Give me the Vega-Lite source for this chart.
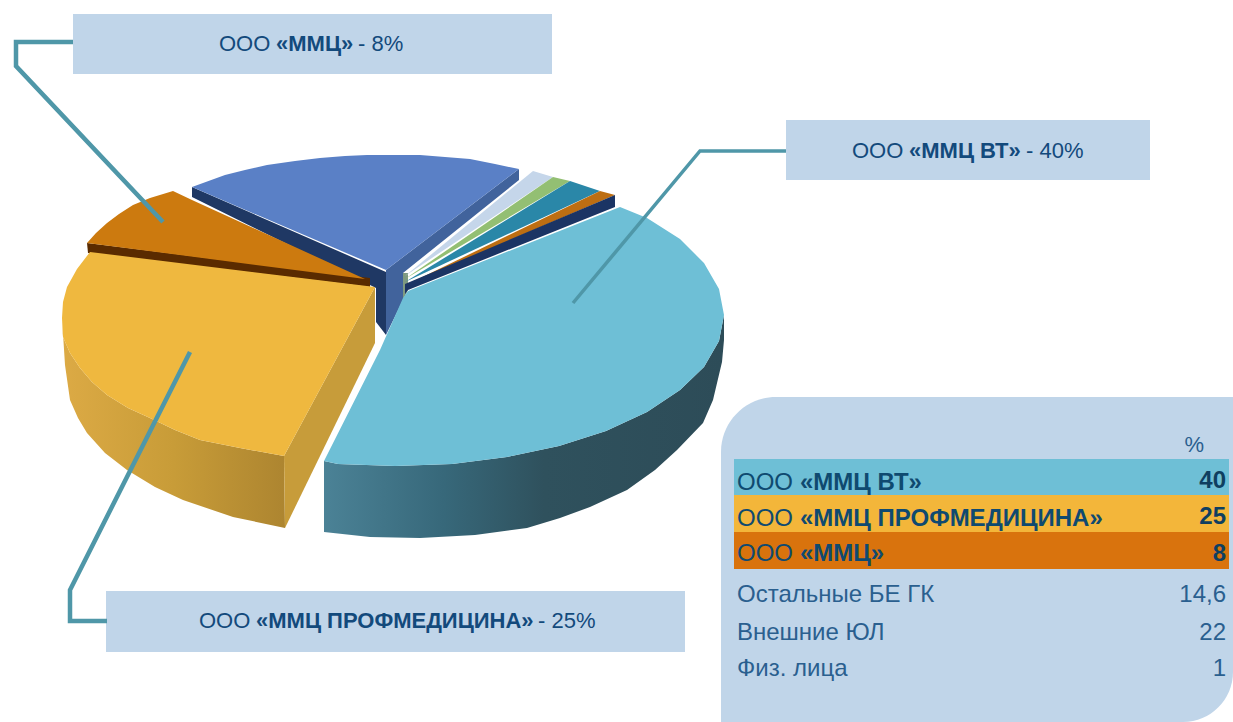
{
"$schema":"https://vega.github.io/schema/vega-lite/v6.json",
"width":1233,"height":722,"padding":0,
"autosize":{"type":"fit","contains":"padding"},
"background":"#ffffff",
"view":{"stroke":null},
"datasets":{
"faces":[
{"part":"side40","i":1,"x":324,"y":461},{"part":"side40","i":2,"x":338,"y":464},{"part":"side40","i":3,"x":395,"y":466},{"part":"side40","i":4,"x":452,"y":464},{"part":"side40","i":5,"x":507,"y":457},{"part":"side40","i":6,"x":559,"y":446},{"part":"side40","i":7,"x":606,"y":431},{"part":"side40","i":8,"x":647,"y":412},{"part":"side40","i":9,"x":680,"y":390},{"part":"side40","i":10,"x":704,"y":367},{"part":"side40","i":11,"x":719,"y":341},{"part":"side40","i":12,"x":724,"y":315},{"part":"side40","i":13,"x":724,"y":340},{"part":"side40","i":14,"x":722,"y":362},{"part":"side40","i":15,"x":713,"y":400},{"part":"side40","i":16,"x":703,"y":423},{"part":"side40","i":17,"x":677,"y":450},{"part":"side40","i":18,"x":655,"y":470},{"part":"side40","i":19,"x":627,"y":490},{"part":"side40","i":20,"x":590,"y":507},{"part":"side40","i":21,"x":560,"y":518},{"part":"side40","i":22,"x":527,"y":528},{"part":"side40","i":23,"x":475,"y":535},{"part":"side40","i":24,"x":420,"y":538},{"part":"side40","i":25,"x":370,"y":537},{"part":"side40","i":26,"x":324,"y":532},
{"part":"side25","i":1,"x":62,"y":318},{"part":"side25","i":2,"x":63,"y":337},{"part":"side25","i":3,"x":70,"y":353},{"part":"side25","i":4,"x":80,"y":368},{"part":"side25","i":5,"x":92,"y":382},{"part":"side25","i":6,"x":107,"y":395},{"part":"side25","i":7,"x":128,"y":408},{"part":"side25","i":8,"x":150,"y":418},{"part":"side25","i":9,"x":175,"y":430},{"part":"side25","i":10,"x":200,"y":440},{"part":"side25","i":11,"x":240,"y":448},{"part":"side25","i":12,"x":284,"y":456},{"part":"side25","i":13,"x":285,"y":528},{"part":"side25","i":14,"x":233,"y":517},{"part":"side25","i":15,"x":183,"y":500},{"part":"side25","i":16,"x":155,"y":487},{"part":"side25","i":17,"x":127,"y":470},{"part":"side25","i":18,"x":105,"y":453},{"part":"side25","i":19,"x":87,"y":433},{"part":"side25","i":20,"x":78,"y":418},{"part":"side25","i":21,"x":70,"y":400},{"part":"side25","i":22,"x":65,"y":365},
{"part":"navy20","i":1,"x":192,"y":187},{"part":"navy20","i":2,"x":386,"y":272},{"part":"navy20","i":3,"x":386,"y":335},{"part":"navy20","i":4,"x":376,"y":322},{"part":"navy20","i":5,"x":376,"y":288},{"part":"navy20","i":6,"x":192,"y":197},
{"part":"face20","i":1,"x":386,"y":270},{"part":"face20","i":2,"x":519,"y":169},{"part":"face20","i":3,"x":519,"y":180},{"part":"face20","i":4,"x":403,"y":273},{"part":"face20","i":5,"x":403,"y":300},{"part":"face20","i":6,"x":386,"y":335},
{"part":"top20","i":1,"x":192,"y":187},{"part":"top20","i":2,"x":225,"y":175},{"part":"top20","i":3,"x":245,"y":170},{"part":"top20","i":4,"x":267,"y":165},{"part":"top20","i":5,"x":295,"y":161},{"part":"top20","i":6,"x":320,"y":158},{"part":"top20","i":7,"x":345,"y":156},{"part":"top20","i":8,"x":367,"y":155},{"part":"top20","i":9,"x":395,"y":155},{"part":"top20","i":10,"x":420,"y":155},{"part":"top20","i":11,"x":445,"y":157},{"part":"top20","i":12,"x":470,"y":159},{"part":"top20","i":13,"x":495,"y":164},{"part":"top20","i":14,"x":519,"y":169},{"part":"top20","i":15,"x":386,"y":270},
{"part":"dark8","i":1,"x":87,"y":243},{"part":"dark8","i":2,"x":370,"y":278},{"part":"dark8","i":3,"x":370,"y":287},{"part":"dark8","i":4,"x":88,"y":253},
{"part":"top8","i":1,"x":87,"y":243},{"part":"top8","i":2,"x":96,"y":233},{"part":"top8","i":3,"x":107,"y":223},{"part":"top8","i":4,"x":119,"y":214},{"part":"top8","i":5,"x":133,"y":205},{"part":"top8","i":6,"x":150,"y":198},{"part":"top8","i":7,"x":173,"y":191},{"part":"top8","i":8,"x":192,"y":200},{"part":"top8","i":9,"x":365,"y":279},
{"part":"face25","i":1,"x":375,"y":287},{"part":"face25","i":2,"x":375,"y":343},{"part":"face25","i":3,"x":285,"y":528},{"part":"face25","i":4,"x":284,"y":456},
{"part":"top25","i":1,"x":90,"y":252},{"part":"top25","i":2,"x":375,"y":287},{"part":"top25","i":3,"x":284,"y":456},{"part":"top25","i":4,"x":240,"y":448},{"part":"top25","i":5,"x":200,"y":440},{"part":"top25","i":6,"x":175,"y":430},{"part":"top25","i":7,"x":150,"y":418},{"part":"top25","i":8,"x":128,"y":408},{"part":"top25","i":9,"x":107,"y":395},{"part":"top25","i":10,"x":92,"y":382},{"part":"top25","i":11,"x":80,"y":368},{"part":"top25","i":12,"x":70,"y":353},{"part":"top25","i":13,"x":63,"y":337},{"part":"top25","i":14,"x":62,"y":318},{"part":"top25","i":15,"x":63,"y":302},{"part":"top25","i":16,"x":67,"y":287},{"part":"top25","i":17,"x":77,"y":269},
{"part":"grey","i":1,"x":403,"y":273},{"part":"grey","i":2,"x":408,"y":273},{"part":"grey","i":3,"x":408,"y":290},{"part":"grey","i":4,"x":403,"y":300},
{"part":"s1","i":1,"x":533,"y":171},{"part":"s1","i":2,"x":553,"y":177},{"part":"s1","i":3,"x":405,"y":276},
{"part":"s2","i":1,"x":553,"y":177},{"part":"s2","i":2,"x":570,"y":181},{"part":"s2","i":3,"x":405,"y":279},
{"part":"s3","i":1,"x":570,"y":181},{"part":"s3","i":2,"x":600,"y":191},{"part":"s3","i":3,"x":405,"y":282},
{"part":"s4","i":1,"x":600,"y":191},{"part":"s4","i":2,"x":615,"y":195},{"part":"s4","i":3,"x":406,"y":285},
{"part":"s5","i":1,"x":615,"y":195},{"part":"s5","i":2,"x":615,"y":207},{"part":"s5","i":3,"x":408,"y":290},{"part":"s5","i":4,"x":405,"y":294},{"part":"s5","i":5,"x":405,"y":284},
{"part":"top40","i":1,"x":408,"y":291},{"part":"top40","i":2,"x":620,"y":207},{"part":"top40","i":3,"x":647,"y":218},{"part":"top40","i":4,"x":680,"y":239},{"part":"top40","i":5,"x":704,"y":263},{"part":"top40","i":6,"x":719,"y":289},{"part":"top40","i":7,"x":724,"y":315},{"part":"top40","i":8,"x":719,"y":341},{"part":"top40","i":9,"x":704,"y":367},{"part":"top40","i":10,"x":680,"y":390},{"part":"top40","i":11,"x":647,"y":412},{"part":"top40","i":12,"x":606,"y":431},{"part":"top40","i":13,"x":559,"y":446},{"part":"top40","i":14,"x":507,"y":457},{"part":"top40","i":15,"x":452,"y":464},{"part":"top40","i":16,"x":395,"y":466},{"part":"top40","i":17,"x":338,"y":464},{"part":"top40","i":18,"x":324,"y":461},{"part":"top40","i":19,"x":380,"y":350},{"part":"top40","i":20,"x":403,"y":298}
],
"leaders":[
{"who":"a","i":1,"x":73,"y":42},{"who":"a","i":2,"x":16,"y":42},{"who":"a","i":3,"x":16,"y":66},{"who":"a","i":4,"x":163,"y":222},
{"who":"b","i":1,"x":786,"y":151},{"who":"b","i":2,"x":700,"y":151},{"who":"b","i":3,"x":573,"y":303},
{"who":"c","i":1,"x":107,"y":621},{"who":"c","i":2,"x":70,"y":621},{"who":"c","i":3,"x":70,"y":590},{"who":"c","i":4,"x":190,"y":352}
],
"boxes":[
{"x":73,"x2":552,"y":14,"y2":74},
{"x":786,"x2":1150,"y":120,"y2":180},
{"x":106,"x2":685,"y":591,"y2":652}
],
"callouts":[
{"prefix":"ООО","name":"«ММЦ»","suffix":"- 8%","xa":219,"xb":276,"xc":358,"y":51},
{"prefix":"ООО","name":"«ММЦ ВТ»","suffix":"- 40%","xa":852,"xb":909,"xc":1026,"y":158},
{"prefix":"ООО","name":"«ММЦ ПРОФМЕДИЦИНА»","suffix":"- 25%","xa":199,"xb":256,"xc":538,"y":628}
],
"panel":[{"x":721,"x2":1233,"y":397,"y2":722}],
"bands":[
{"name":"ММЦ ВТ","x":734,"x2":1229,"y":459,"y2":495},
{"name":"ММЦ ПРОФМЕДИЦИНА","x":734,"x2":1229,"y":495,"y2":532},
{"name":"ММЦ","x":734,"x2":1229,"y":532,"y2":569}
],
"rowsBold":[
{"prefix":"ООО","label":"«ММЦ ВТ»","share":"40","xl":737,"xb":800,"xr":1226,"y":490,"yv":488},
{"prefix":"ООО","label":"«ММЦ ПРОФМЕДИЦИНА»","share":"25","xl":737,"xb":800,"xr":1226,"y":526,"yv":524},
{"prefix":"ООО","label":"«ММЦ»","share":"8","xl":737,"xb":800,"xr":1226,"y":561,"yv":561}
],
"rowsPlain":[
{"label":"Остальные БЕ ГК","share":"14,6","xl":737,"xr":1226,"y":602},
{"label":"Внешние ЮЛ","share":"22","xl":737,"xr":1226,"y":640},
{"label":"Физ. лица","share":"1","xl":737,"xr":1226,"y":676}
],
"unit":[{"share":"%","xr":1204,"y":452}]
},
"encoding":{
"x":{"field":"x","type":"quantitative","scale":{"domain":[0,1233],"nice":false,"zero":false},"axis":null},
"y":{"field":"y","type":"quantitative","scale":{"domain":[722,0],"nice":false,"zero":false},"axis":null}
},
"layer":[
{"data":{"name":"faces"},"transform":[{"filter":"datum.part==='side40'"}],
 "mark":{"type":"line","strokeWidth":0,"fill":{"gradient":"linear","x1":0,"y1":0,"x2":1,"y2":0,"stops":[{"offset":0,"color":"#4b8296"},{"offset":0.3,"color":"#37687a"},{"offset":0.55,"color":"#2f515d"},{"offset":1,"color":"#2d4c58"}]}},
 "encoding":{"order":{"field":"i","type":"quantitative"}}},
{"data":{"name":"faces"},"transform":[{"filter":"datum.part==='side25'"}],
 "mark":{"type":"line","strokeWidth":0,"fill":{"gradient":"linear","x1":0,"y1":0,"x2":1,"y2":0,"stops":[{"offset":0,"color":"#dcaa45"},{"offset":0.5,"color":"#c89c38"},{"offset":1,"color":"#ad8530"}]}},
 "encoding":{"order":{"field":"i","type":"quantitative"}}},
{"data":{"name":"faces"},"transform":[{"filter":"datum.part!=='side40' && datum.part!=='side25'"}],
 "mark":{"type":"line","strokeWidth":0},
 "encoding":{"order":{"field":"i","type":"quantitative"},"detail":{"field":"part"},
  "fill":{"field":"part","type":"nominal","legend":null,"scale":{
   "domain":["navy20","face20","top20","dark8","top8","face25","top25","grey","s1","s2","s3","s4","s5","top40"],
   "range":["#1f3864","#41639c","#5a80c6","#5a2b00","#cc7a0f","#c79c3a","#efb83f","#7f9a80","#c5d6ea","#93bf73","#2a87a8","#bd6e12","#1b3464","#6ebfd6"]}}}},
{"data":{"name":"panel"},"mark":{"type":"rect","color":"#c0d5e9","cornerRadiusTopLeft":55,"cornerRadiusBottomRight":50},
 "encoding":{"x2":{"field":"x2"},"y2":{"field":"y2"}}},
{"data":{"name":"boxes"},"mark":{"type":"rect","color":"#c0d5e9"},
 "encoding":{"x2":{"field":"x2"},"y2":{"field":"y2"}}},
{"data":{"name":"leaders"},"transform":[{"filter":"datum.who!=='b'"}],"mark":{"type":"line","color":"#4f97a8","strokeWidth":4.5,"strokeJoin":"miter"},
 "encoding":{"order":{"field":"i","type":"quantitative"},"detail":{"field":"who"}}},
{"data":{"name":"leaders"},"transform":[{"filter":"datum.who==='b'"}],"mark":{"type":"line","color":"#4f97a8","strokeWidth":3.5,"strokeJoin":"miter"},
 "encoding":{"order":{"field":"i","type":"quantitative"}}},
{"data":{"name":"bands"},"mark":{"type":"rect"},
 "encoding":{"x2":{"field":"x2"},"y2":{"field":"y2"},"color":{"field":"name","type":"nominal","legend":null,"scale":{"domain":["ММЦ ВТ","ММЦ ПРОФМЕДИЦИНА","ММЦ"],"range":["#6ebfd6","#f3b63a","#d9730d"]}}}},
{"data":{"name":"callouts"},"mark":{"type":"text","font":"Liberation Sans","fontSize":22,"color":"#134a7c","align":"left","baseline":"alphabetic"},
 "encoding":{"x":{"field":"xa","type":"quantitative"},"text":{"field":"prefix"}}},
{"data":{"name":"callouts"},"mark":{"type":"text","font":"Liberation Sans","fontSize":22,"fontWeight":"bold","color":"#134a7c","align":"left","baseline":"alphabetic"},
 "encoding":{"x":{"field":"xb","type":"quantitative"},"text":{"field":"name"}}},
{"data":{"name":"callouts"},"mark":{"type":"text","font":"Liberation Sans","fontSize":22,"color":"#134a7c","align":"left","baseline":"alphabetic"},
 "encoding":{"x":{"field":"xc","type":"quantitative"},"text":{"field":"suffix"}}},
{"data":{"name":"rowsBold"},"mark":{"type":"text","font":"Liberation Sans","fontSize":24,"color":"#0f4a70","align":"left","baseline":"alphabetic"},
 "encoding":{"x":{"field":"xl","type":"quantitative"},"text":{"field":"prefix"}}},
{"data":{"name":"rowsBold"},"mark":{"type":"text","font":"Liberation Sans","fontSize":24,"fontWeight":"bold","color":"#0f4a70","align":"left","baseline":"alphabetic"},
 "encoding":{"x":{"field":"xb","type":"quantitative"},"text":{"field":"label"}}},
{"data":{"name":"rowsBold"},"mark":{"type":"text","font":"Liberation Sans","fontSize":24,"fontWeight":"bold","color":"#0f3f60","align":"right","baseline":"alphabetic"},
 "encoding":{"x":{"field":"xr","type":"quantitative"},"y":{"field":"yv","type":"quantitative"},"text":{"field":"share"}}},
{"data":{"name":"rowsPlain"},"mark":{"type":"text","font":"Liberation Sans","fontSize":24,"color":"#2a5f8f","align":"left","baseline":"alphabetic"},
 "encoding":{"x":{"field":"xl","type":"quantitative"},"text":{"field":"label"}}},
{"data":{"name":"rowsPlain"},"mark":{"type":"text","font":"Liberation Sans","fontSize":24,"color":"#2a5f8f","align":"right","baseline":"alphabetic"},
 "encoding":{"x":{"field":"xr","type":"quantitative"},"text":{"field":"share"}}},
{"data":{"name":"unit"},"mark":{"type":"text","font":"Liberation Sans","fontSize":22,"color":"#2a5f8f","align":"right","baseline":"alphabetic"},
 "encoding":{"x":{"field":"xr","type":"quantitative"},"text":{"field":"share"}}}
]
}
